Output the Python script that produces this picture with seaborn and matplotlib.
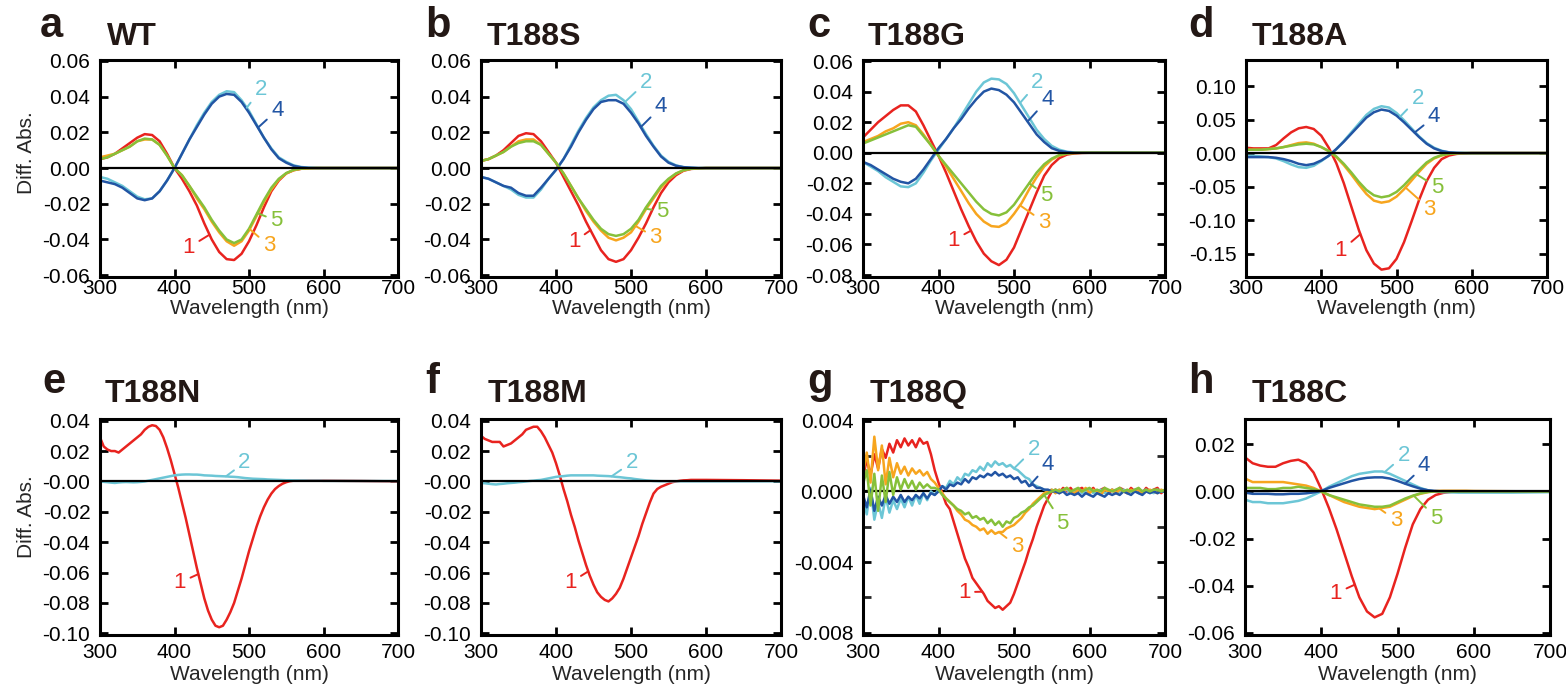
import numpy as np
import pandas as pd
import matplotlib
matplotlib.use('Agg')
import matplotlib.pyplot as plt
from matplotlib.ticker import MultipleLocator, FormatStrFormatter
import seaborn as sns

# wavelength grid (nm)
wl = [300, 310, 320, 330, 340, 350, 360, 370, 380, 390,
      400, 410, 420, 430, 440, 450, 460, 470, 480, 490,
      500, 510, 520, 530, 540, 550, 560, 570, 580, 590,
      600, 650, 700]
# T188N / T188M have a sharp band, read every 5 nm up to 600
wl_5 = list(range(300, 600, 5)) + [600, 650, 700]
# T188Q is noisy, read every 5 nm all the way
wl_q = list(range(300, 705, 5))

trace_names = ['1', '2', '3', '4', '5']
trace_colors = ['#e8231f', '#6cc6d6', '#f7a51e', '#2255a4', '#86c03a']
ink = '#231815'

# ---- WT ----
wt_1 = [0.005, 0.006, 0.008, 0.011, 0.014, 0.017, 0.019, 0.0185, 0.015, 0.008,
        0.000, -0.006, -0.013, -0.021, -0.031, -0.040, -0.047, -0.051, -0.0515, -0.048,
        -0.041, -0.032, -0.022, -0.013, -0.007, -0.003, -0.0012, -0.0004, -0.0001, 0,
        0, 0, 0]
wt_2 = [-0.005, -0.006, -0.008, -0.010, -0.013, -0.016, -0.0175, -0.017, -0.013, -0.007,
        0.000, 0.008, 0.016, 0.024, 0.031, 0.037, 0.041, 0.043, 0.0425, 0.038,
        0.032, 0.0245, 0.017, 0.011, 0.006, 0.0035, 0.0015, 0.0006, 0.0002, 0.0001,
        0, 0, 0]
wt_3 = [0.006, 0.007, 0.008, 0.010, 0.012, 0.015, 0.016, 0.016, 0.013, 0.007,
        0.000, -0.004, -0.010, -0.017, -0.023, -0.030, -0.036, -0.041, -0.0435, -0.041,
        -0.035, -0.027, -0.019, -0.012, -0.0065, -0.003, -0.0012, -0.0004, -0.0001, 0,
        0, 0, 0]
wt_4 = [-0.007, -0.008, -0.009, -0.011, -0.014, -0.017, -0.018, -0.017, -0.013, -0.007,
        0.000, 0.008, 0.016, 0.023, 0.030, 0.036, 0.040, 0.0415, 0.041, 0.037,
        0.031, 0.024, 0.017, 0.0105, 0.0055, 0.003, 0.0012, 0.0004, 0.0001, 0,
        0, 0, 0]
wt_5 = [0.005, 0.006, 0.008, 0.010, 0.012, 0.015, 0.0165, 0.016, 0.013, 0.007,
        0.000, -0.004, -0.010, -0.016, -0.022, -0.029, -0.035, -0.040, -0.042, -0.040,
        -0.034, -0.026, -0.018, -0.011, -0.006, -0.0028, -0.001, -0.0003, -0.0001, 0,
        0, 0, 0]

# ---- T188S ----
t188s_1 = [0.004, 0.005, 0.007, 0.010, 0.014, 0.018, 0.0195, 0.019, 0.015, 0.009,
           0.003, -0.005, -0.013, -0.021, -0.030, -0.038, -0.046, -0.051, -0.0525, -0.051,
           -0.046, -0.039, -0.031, -0.022, -0.014, -0.008, -0.004, -0.0015, -0.0005, -0.0002,
           0, 0, 0]
t188s_2 = [-0.005, -0.006, -0.008, -0.010, -0.012, -0.015, -0.0165, -0.0165, -0.012, -0.006,
           -0.001, 0.005, 0.013, 0.021, 0.028, 0.034, 0.038, 0.0405, 0.041, 0.038,
           0.033, 0.026, 0.019, 0.0125, 0.007, 0.0035, 0.0015, 0.0005, 0.0002, 0,
           0, 0, 0]
t188s_3 = [0.004, 0.005, 0.007, 0.009, 0.012, 0.015, 0.016, 0.016, 0.013, 0.008,
           0.003, -0.003, -0.010, -0.017, -0.024, -0.030, -0.035, -0.039, -0.0405, -0.039,
           -0.036, -0.030, -0.023, -0.017, -0.011, -0.0065, -0.0032, -0.0013, -0.0004, -0.0001,
           0, 0, 0]
t188s_4 = [-0.005, -0.006, -0.008, -0.010, -0.011, -0.014, -0.0155, -0.0155, -0.011, -0.006,
           -0.001, 0.005, 0.012, 0.020, 0.027, 0.033, 0.037, 0.038, 0.038, 0.036,
           0.031, 0.025, 0.018, 0.012, 0.0065, 0.003, 0.0013, 0.0005, 0.0002, 0,
           0, 0, 0]
t188s_5 = [0.004, 0.005, 0.007, 0.009, 0.012, 0.014, 0.015, 0.015, 0.013, 0.008,
           0.003, -0.003, -0.010, -0.017, -0.023, -0.029, -0.034, -0.037, -0.038, -0.037,
           -0.034, -0.029, -0.022, -0.016, -0.010, -0.006, -0.003, -0.0012, -0.0004, -0.0001,
           0, 0, 0]

# ---- T188G ----
t188g_1 = [0.010, 0.015, 0.020, 0.024, 0.028, 0.031, 0.031, 0.027, 0.018, 0.008,
           -0.002, -0.013, -0.025, -0.037, -0.048, -0.058, -0.066, -0.071, -0.0735, -0.070,
           -0.062, -0.050, -0.038, -0.026, -0.015, -0.008, -0.0035, -0.0012, -0.0004, -0.0001,
           0, 0, 0]
t188g_2 = [-0.006, -0.009, -0.012, -0.016, -0.019, -0.022, -0.0225, -0.020, -0.013, -0.005,
           0.002, 0.009, 0.016, 0.024, 0.032, 0.040, 0.046, 0.0485, 0.048, 0.045,
           0.039, 0.031, 0.023, 0.015, 0.009, 0.0045, 0.002, 0.0007, 0.0002, 0,
           0, 0, 0]
t188g_3 = [0.007, 0.009, 0.011, 0.014, 0.016, 0.019, 0.020, 0.018, 0.012, 0.005,
           -0.002, -0.009, -0.017, -0.025, -0.033, -0.040, -0.045, -0.048, -0.0485, -0.046,
           -0.040, -0.033, -0.024, -0.016, -0.009, -0.0045, -0.0018, -0.0006, -0.0002, 0,
           0, 0, 0]
t188g_4 = [-0.006, -0.008, -0.011, -0.014, -0.017, -0.019, -0.020, -0.017, -0.011, -0.004,
           0.003, 0.009, 0.016, 0.022, 0.029, 0.035, 0.040, 0.042, 0.041, 0.038,
           0.033, 0.026, 0.019, 0.012, 0.007, 0.003, 0.0012, 0.0004, 0.0001, 0,
           0, 0, 0]
t188g_5 = [0.006, 0.008, 0.010, 0.012, 0.014, 0.016, 0.018, 0.017, 0.011, 0.005,
           -0.002, -0.008, -0.014, -0.020, -0.026, -0.032, -0.037, -0.040, -0.041, -0.039,
           -0.034, -0.027, -0.020, -0.013, -0.0075, -0.0038, -0.0015, -0.0005, -0.0001, 0,
           0, 0, 0]

# ---- T188A ----
t188a_1 = [0.008, 0.007, 0.007, 0.007, 0.012, 0.022, 0.031, 0.037, 0.039, 0.036,
           0.026, 0.008, -0.015, -0.045, -0.080, -0.115, -0.145, -0.165, -0.174, -0.172,
           -0.158, -0.133, -0.102, -0.070, -0.042, -0.022, -0.009, -0.0035, -0.0012, -0.0004,
           0, 0, 0]
t188a_2 = [-0.004, -0.004, -0.005, -0.006, -0.008, -0.012, -0.017, -0.021, -0.022, -0.019,
           -0.012, -0.004, 0.006, 0.018, 0.031, 0.044, 0.057, 0.066, 0.070, 0.068,
           0.060, 0.049, 0.037, 0.025, 0.015, 0.008, 0.0035, 0.0012, 0.0004, 0.0001,
           0, 0, 0]
t188a_3 = [0.005, 0.005, 0.005, 0.006, 0.007, 0.009, 0.012, 0.015, 0.016, 0.014,
           0.009, 0.003, -0.006, -0.018, -0.032, -0.047, -0.061, -0.071, -0.074, -0.072,
           -0.065, -0.054, -0.041, -0.028, -0.016, -0.008, -0.0035, -0.0012, -0.0004, -0.0001,
           0, 0, 0]
t188a_4 = [-0.006, -0.006, -0.006, -0.006, -0.007, -0.009, -0.012, -0.016, -0.018, -0.016,
           -0.011, -0.004, 0.006, 0.017, 0.029, 0.041, 0.053, 0.061, 0.065, 0.063,
           0.056, 0.046, 0.035, 0.024, 0.014, 0.007, 0.003, 0.001, 0.0003, 0,
           0, 0, 0]
t188a_5 = [0.005, 0.005, 0.005, 0.006, 0.007, 0.009, 0.011, 0.013, 0.014, 0.013,
           0.009, 0.003, -0.005, -0.016, -0.029, -0.043, -0.055, -0.063, -0.066, -0.064,
           -0.058, -0.048, -0.036, -0.025, -0.014, -0.007, -0.003, -0.001, -0.0003, 0,
           0, 0, 0]

# ---- T188N (5 nm) ----
t188n_1 = [0.029, 0.023, 0.021, 0.020, 0.020, 0.019, 0.021, 0.023, 0.025, 0.027,
           0.029, 0.031, 0.034, 0.036, 0.037, 0.0365, 0.034, 0.029, 0.022, 0.014,
           0.005, -0.004, -0.014, -0.024, -0.035, -0.046, -0.057, -0.067, -0.077, -0.085,
           -0.091, -0.095, -0.096, -0.095, -0.091, -0.086, -0.080, -0.072, -0.064, -0.055,
           -0.046, -0.038, -0.030, -0.023, -0.017, -0.012, -0.008, -0.005, -0.003, -0.0015,
           -0.0005, 0.0002, 0.0005, 0.0005, 0.0005, 0.0005, 0.0005, 0.0005, 0.0005, 0.0005,
           0.0005, 0.0003, 0]
t188n_2 = [0.000, -0.0003, -0.0005, -0.0008, -0.001, -0.0007, -0.0005, -0.0004, -0.0005, -0.0006,
           -0.0005, -0.0003, 0.000, 0.0005, 0.001, 0.0015, 0.002, 0.0025, 0.003, 0.0035,
           0.004, 0.0043, 0.0045, 0.0046, 0.0046, 0.0045, 0.0045, 0.0043, 0.004, 0.0039,
           0.0038, 0.0036, 0.0035, 0.0034, 0.0033, 0.0031, 0.003, 0.0028, 0.0025, 0.0022,
           0.002, 0.0018, 0.0017, 0.0016, 0.0015, 0.0013, 0.0012, 0.0011, 0.001, 0.0009,
           0.0008, 0.0008, 0.0007, 0.0007, 0.0006, 0.0006, 0.0005, 0.0005, 0.0005, 0.0005,
           0.0004, 0.0003, 0.0002]

# ---- T188M (5 nm) ----
t188m_1 = [0.030, 0.028, 0.027, 0.026, 0.026, 0.026, 0.023, 0.024, 0.025, 0.027,
           0.029, 0.031, 0.034, 0.035, 0.036, 0.036, 0.033, 0.029, 0.024, 0.019,
           0.012, 0.004, -0.005, -0.013, -0.022, -0.030, -0.039, -0.047, -0.055, -0.062,
           -0.068, -0.073, -0.076, -0.078, -0.079, -0.077, -0.074, -0.070, -0.064, -0.057,
           -0.050, -0.043, -0.036, -0.028, -0.021, -0.014, -0.008, -0.005, -0.0035, -0.0025,
           -0.0015, -0.0005, 0.000, 0.0004, 0.0007, 0.0008, 0.001, 0.001, 0.001, 0.001,
           0.001, 0.0008, 0.0005]
t188m_2 = [-0.001, -0.0012, -0.0015, -0.0018, -0.002, -0.0017, -0.0015, -0.0012, -0.001, -0.0008,
           -0.0005, -0.0003, 0.000, 0.0003, 0.0005, 0.0008, 0.001, 0.0015, 0.002, 0.0025,
           0.003, 0.0033, 0.0035, 0.0038, 0.004, 0.004, 0.004, 0.004, 0.004, 0.004,
           0.004, 0.0038, 0.0037, 0.0036, 0.0035, 0.0033, 0.003, 0.0028, 0.0025, 0.0022,
           0.002, 0.0016, 0.0013, 0.001, 0.0007, 0.0005, 0.0003, 0.0002, 0.0001, 0.0001,
           0.0001, 0.0001, 0.0001, 0.0001, 0.0001, 0.0001, 0.0001, 0.0001, 0.0001, 0.0001,
           0.0001, 0.0001, 0.0001]

# ---- T188Q (5 nm) ----
t188q_1 = [0.0008, 0.0018, 0.0009, 0.0021, 0.0013, 0.0024, 0.0019, 0.0027, 0.0022, 0.0029,
           0.0025, 0.0030, 0.0026, 0.0029, 0.0025, 0.0030, 0.0027, 0.0028, 0.0021, 0.0012,
           0.0005, -0.0001, -0.0007, -0.0010, -0.0017, -0.0024, -0.0031, -0.0038, -0.0043, -0.0049,
           -0.0052, -0.0055, -0.0058, -0.0062, -0.0064, -0.0066, -0.0065, -0.0067, -0.0065, -0.0063,
           -0.0058, -0.0052, -0.0046, -0.0040, -0.0033, -0.0027, -0.0020, -0.0014, -0.0008, -0.0004,
           0.0000, 0.0001, -0.0001, 0.0002, 0.0000, 0.0002, -0.0001, 0.0001, 0.0002, 0.0000,
           0.0000, 0.0002, -0.0001, 0.0001, 0.0002, -0.0001, 0.0001, 0.0000, 0.0002, 0.0001,
           -0.0001, 0.0002, 0.0000, 0.0001, -0.0001, 0.0002, 0.0000, 0.0001, 0.0002, -0.0001,
           0.0001]
t188q_2 = [-0.0004, -0.0013, 0.0002, -0.0016, -0.0006, -0.0015, -0.0003, -0.0012, -0.0005, -0.0010,
           -0.0004, -0.0009, -0.0003, -0.0008, -0.0002, -0.0007, -0.0001, -0.0005, 0.0000, -0.0002,
           0.0001, 0.0003, 0.0002, 0.0006, 0.0004, 0.0008, 0.0006, 0.0010, 0.0009, 0.0012,
           0.0011, 0.0014, 0.0012, 0.0016, 0.0014, 0.0017, 0.0015, 0.0016, 0.0014, 0.0015,
           0.0013, 0.0012, 0.0010, 0.0008, 0.0007, 0.0004, 0.0003, 0.0002, 0.0001, 0.0000,
           0.0001, -0.0001, 0.0001, 0.0000, 0.0001, -0.0001, 0.0000, 0.0001, -0.0001, 0.0000,
           0.0001, -0.0001, 0.0000, 0.0001, -0.0001, 0.0000, 0.0001, -0.0001, 0.0000, 0.0001,
           -0.0001, 0.0000, 0.0001, -0.0001, 0.0000, 0.0001, 0.0000, -0.0001, 0.0001, 0.0000,
           0.0000]
t188q_3 = [0.0010, 0.0022, 0.0005, 0.0031, 0.0012, 0.0026, 0.0004, 0.0019, 0.0008, 0.0016,
           0.0010, 0.0014, 0.0009, 0.0013, 0.0010, 0.0012, 0.0009, 0.0011, 0.0007, 0.0005,
           0.0002, -0.0001, -0.0004, -0.0006, -0.0008, -0.0011, -0.0013, -0.0016, -0.0017, -0.0019,
           -0.0020, -0.0022, -0.0021, -0.0024, -0.0022, -0.0024, -0.0023, -0.0023, -0.0021, -0.0020,
           -0.0019, -0.0017, -0.0015, -0.0012, -0.0010, -0.0007, -0.0005, -0.0003, -0.0001, 0.0000,
           0.0001, -0.0001, 0.0001, 0.0000, 0.0002, 0.0000, -0.0001, 0.0001, 0.0000, 0.0002,
           -0.0001, 0.0001, 0.0000, -0.0002, 0.0001, 0.0000, 0.0001, -0.0001, 0.0001, 0.0000,
           -0.0001, 0.0001, 0.0000, 0.0001, -0.0001, 0.0000, 0.0001, 0.0000, -0.0001, 0.0001,
           0.0000]
t188q_4 = [-0.0002, -0.0009, 0.0001, -0.0011, -0.0003, -0.0008, -0.0002, -0.0007, -0.0003, -0.0006,
           -0.0002, -0.0006, -0.0003, -0.0005, -0.0002, -0.0004, -0.0001, -0.0004, -0.0001, -0.0002,
           0.0000, 0.0003, 0.0001, 0.0004, 0.0003, 0.0005, 0.0004, 0.0007, 0.0005, 0.0008,
           0.0007, 0.0009, 0.0008, 0.0010, 0.0009, 0.0011, 0.0009, 0.0010, 0.0008, 0.0009,
           0.0007, 0.0008, 0.0005, 0.0006, 0.0003, 0.0004, 0.0002, 0.0002, 0.0001, 0.0001,
           0.0000, 0.0000, -0.0001, 0.0000, -0.0002, -0.0001, -0.0002, -0.0001, -0.0003, -0.0001,
           -0.0002, -0.0003, -0.0001, -0.0002, -0.0003, -0.0001, -0.0002, -0.0001, -0.0002, 0.0000,
           -0.0001, -0.0002, 0.0000, -0.0001, -0.0002, 0.0000, -0.0001, 0.0000, -0.0001, 0.0000,
           0.0000]
t188q_5 = [0.0004, 0.0012, -0.0008, 0.0010, -0.0011, 0.0009, -0.0006, 0.0011, -0.0002, 0.0008,
           0.0001, 0.0007, 0.0002, 0.0006, 0.0001, 0.0005, 0.0002, 0.0004, 0.0002, 0.0002,
           0.0001, -0.0002, -0.0004, -0.0006, -0.0008, -0.0010, -0.0011, -0.0013, -0.0012, -0.0015,
           -0.0014, -0.0016, -0.0015, -0.0018, -0.0016, -0.0019, -0.0017, -0.0020, -0.0017, -0.0018,
           -0.0015, -0.0014, -0.0012, -0.0011, -0.0009, -0.0008, -0.0006, -0.0004, -0.0002, -0.0001,
           0.0000, 0.0001, 0.0000, 0.0001, 0.0002, 0.0000, 0.0001, 0.0002, 0.0000, 0.0001,
           0.0002, 0.0000, 0.0001, 0.0000, 0.0002, 0.0001, 0.0000, 0.0001, 0.0002, 0.0000,
           0.0001, 0.0000, 0.0001, 0.0002, 0.0000, 0.0001, 0.0000, 0.0001, 0.0001, 0.0000,
           0.0001]

# ---- T188C ----
t188c_1 = [0.0145, 0.012, 0.011, 0.0105, 0.0105, 0.012, 0.013, 0.0135, 0.012, 0.008,
           0.001, -0.007, -0.016, -0.026, -0.036, -0.045, -0.051, -0.0535, -0.052, -0.045,
           -0.035, -0.024, -0.014, -0.0075, -0.0035, -0.0015, -0.0006, -0.0002, 0, 0,
           0, 0, 0]
t188c_2 = [-0.0035, -0.0045, -0.0045, -0.005, -0.005, -0.005, -0.0045, -0.004, -0.003, -0.0015,
           0.000, 0.002, 0.0035, 0.005, 0.0065, 0.0075, 0.008, 0.0085, 0.0085, 0.0075,
           0.006, 0.0045, 0.003, 0.0015, 0.0005, 0.000, -0.0003, -0.0004, -0.0005, -0.0005,
           -0.0005, -0.0005, -0.0003]
t188c_3 = [0.0055, 0.004, 0.004, 0.004, 0.004, 0.004, 0.0035, 0.003, 0.0025, 0.0015,
           0.000, -0.0015, -0.003, -0.0045, -0.0055, -0.0065, -0.007, -0.0075, -0.007, -0.0065,
           -0.005, -0.0035, -0.002, -0.001, -0.0003, 0.0002, 0.0003, 0.0003, 0.0003, 0.0003,
           0.0002, 0.0001, 0]
t188c_4 = [-0.0005, -0.001, -0.001, -0.001, -0.0012, -0.0012, -0.001, -0.001, -0.0008, -0.0004,
           0.0002, 0.0015, 0.0025, 0.0035, 0.0045, 0.0053, 0.0058, 0.006, 0.006, 0.0055,
           0.0045, 0.0033, 0.0022, 0.0012, 0.0005, 0.0002, 0, 0, 0, 0,
           0, 0, 0]
t188c_5 = [0.0015, 0.0015, 0.0015, 0.001, 0.001, 0.0015, 0.0015, 0.002, 0.0015, 0.001,
           0.000, -0.0015, -0.0025, -0.0035, -0.0045, -0.0055, -0.006, -0.0065, -0.0065, -0.006,
           -0.0045, -0.003, -0.0018, -0.0008, -0.0002, 0, 0, 0, 0, 0,
           0, 0, 0]

# panel layout: pixel box (left, top, right, bottom), letter / title positions,
# and number labels as (trace, x on curve, text x, text y)
W, H = 1566, 690
panels = [
    dict(letter='a', title='WT', box=(100, 60, 398, 277), lx=40, tx=107, row=0, wl=wl,
         traces=[wt_1, wt_2, wt_3, wt_4, wt_5], ylim=(-0.061, 0.0605), step=0.02, fmt='%.2f',
         labels=[('2', 497, 516, 0.0441), ('4', 512, 538, 0.0325), ('5', 511, 537, -0.0295),
                 ('3', 501, 527, -0.0436), ('1', 447, 419, -0.0445)]),
    dict(letter='b', title='T188S', box=(481, 60, 781, 277), lx=425, tx=487, row=0, wl=wl,
         traces=[t188s_1, t188s_2, t188s_3, t188s_4, t188s_5], ylim=(-0.061, 0.0605), step=0.02, fmt='%.2f',
         labels=[('2', 492, 520, 0.0481), ('4', 513, 540, 0.0342), ('5', 519, 542, -0.0243),
                 ('3', 506, 533, -0.039), ('1', 446, 424, -0.0413)]),
    dict(letter='c', title='T188G', box=(863, 60, 1165, 277), lx=807, tx=868, row=0, wl=wl,
         traces=[t188g_1, t188g_2, t188g_3, t188g_4, t188g_5], ylim=(-0.0813, 0.0607), step=0.02, fmt='%.2f',
         labels=[('2', 508, 531, 0.0457), ('4', 518, 544, 0.0347), ('5', 520, 543, -0.0279),
                 ('3', 508, 540, -0.0455), ('1', 443, 420, -0.0571)]),
    dict(letter='d', title='T188A', box=(1246, 60, 1547, 277), lx=1188, tx=1252, row=0, wl=wl,
         traces=[t188a_1, t188a_2, t188a_3, t188a_4, t188a_5], ylim=(-0.185, 0.139), step=0.05, fmt='%.2f',
         labels=[('2', 505, 528, 0.0815), ('4', 524, 550, 0.054), ('5', 525, 554, -0.051),
                 ('3', 512, 544, -0.0835), ('1', 452, 426, -0.146)]),
    dict(letter='e', title='T188N', box=(100, 419, 398, 635), lx=42, tx=105, row=1, wl=wl_5,
         traces=[t188n_1, t188n_2, None, None, None], ylim=(-0.1011, 0.0411), step=0.02, fmt='%.2f',
         labels=[('2', 469, 494, 0.0125), ('1', 432, 407, -0.0666)]),
    dict(letter='f', title='T188M', box=(481, 419, 781, 635), lx=425, tx=488, row=1, wl=wl_5,
         traces=[t188m_1, t188m_2, None, None, None], ylim=(-0.1011, 0.0411), step=0.02, fmt='%.2f',
         labels=[('2', 474, 501, 0.0125), ('1', 443, 419, -0.0666)]),
    dict(letter='g', title='T188Q', box=(863, 419, 1165, 635), lx=807, tx=870, row=1, wl=wl_q,
         traces=[t188q_1, t188q_2, t188q_3, t188q_4, t188q_5], ylim=(-0.00813, 0.0041), step=0.004, fmt='%.3f',
         minor=0.002, zero_below=True,
         labels=[('2', 500, 526, 0.0024), ('4', 520, 545, 0.0015), ('5', 540, 564, -0.0018),
                 ('3', 480, 504, -0.0031), ('1', 458, 434, -0.0057)]),
    dict(letter='h', title='T188C', box=(1245, 419, 1550, 635), lx=1188, tx=1252, row=1, wl=wl,
         traces=[t188c_1, t188c_2, t188c_3, t188c_4, t188c_5], ylim=(-0.061, 0.0308), step=0.02, fmt='%.2f',
         labels=[('2', 483, 508, 0.0152), ('4', 510, 535, 0.0109), ('5', 521, 551, -0.0113),
                 ('3', 476, 498, -0.0123), ('1', 444, 419, -0.0433)]),
]

sns.set_style('ticks')
plt.rcParams['font.family'] = ['Liberation Sans', 'DejaVu Sans']
plt.rcParams['axes.unicode_minus'] = False

fig = plt.figure(figsize=(W / 100, H / 100), dpi=100)
palette = dict(zip(trace_names, trace_colors))

letter_base = [37, 393]
title_base = [45, 402]
xtick_pad = [1.5, 5.5]
xlabel_pad = [0.5, 2.5]

for p in panels:
    l, t, r, b = p['box']
    ax = fig.add_axes([l / W, 1 - b / H, (r - l) / W, (b - t) / H])

    frames = []
    for name, vals in zip(trace_names, p['traces']):
        if vals is None:
            continue
        frames.append(pd.DataFrame({'wl': p['wl'], 'dA': vals, 'trace': name}))
    df = pd.concat(frames, ignore_index=True)

    ax.axhline(0, color='black', lw=1.6, zorder=1 if p.get('zero_below') else 5)
    sns.lineplot(data=df, x='wl', y='dA', hue='trace', palette=palette,
                 hue_order=[n for n in trace_names if n in df['trace'].unique()],
                 estimator=None, sort=False, legend=False, lw=1.8, ax=ax)

    # number labels with short leader lines
    for name, xa, xt, yt in p['labels']:
        k = trace_names.index(name)
        ya = np.interp(xa, p['wl'], p['traces'][k])
        ax.annotate(name, xy=(xa, ya), xytext=(xt, yt), textcoords='data',
                    ha='center', va='center', fontsize=16, color=trace_colors[k],
                    arrowprops=dict(arrowstyle='-', color=trace_colors[k], lw=1.4,
                                    shrinkA=1, shrinkB=0))

    ax.set_xlim(300, 700)
    ax.set_ylim(*p['ylim'])
    ax.xaxis.set_major_locator(MultipleLocator(100))
    ax.yaxis.set_major_locator(MultipleLocator(p['step']))
    ax.yaxis.set_major_formatter(FormatStrFormatter(p['fmt']))
    if 'minor' in p:
        ax.yaxis.set_minor_locator(MultipleLocator(p['minor']))
        ax.tick_params(axis='y', which='minor', direction='in', length=6, width=2,
                       left=True, right=True)
    ax.tick_params(which='major', direction='in', length=6, width=2, top=True, right=True,
                   labelsize=15, colors='black')
    ax.tick_params(axis='y', pad=7)
    ax.tick_params(axis='x', pad=xtick_pad[p['row']])
    for s in ax.spines.values():
        s.set_linewidth(2.2)
        s.set_color('black')
    ax.set_xlabel('Wavelength (nm)', fontsize=15, labelpad=xlabel_pad[p['row']])
    ax.set_ylabel('')

    fig.text(p['lx'] / W, 1 - letter_base[p['row']] / H, p['letter'], fontsize=30,
             fontweight='bold', color=ink, ha='left', va='baseline')
    fig.text(p['tx'] / W, 1 - title_base[p['row']] / H, p['title'], fontsize=23,
             fontweight='bold', color=ink, ha='left', va='baseline')

fig.text(26 / W, 1 - 153 / H, 'Diff. Abs.', fontsize=15, rotation=90, ha='center', va='center')
fig.text(26 / W, 1 - 517 / H, 'Diff. Abs.', fontsize=15, rotation=90, ha='center', va='center')

fig.savefig('out.png', dpi=100)
